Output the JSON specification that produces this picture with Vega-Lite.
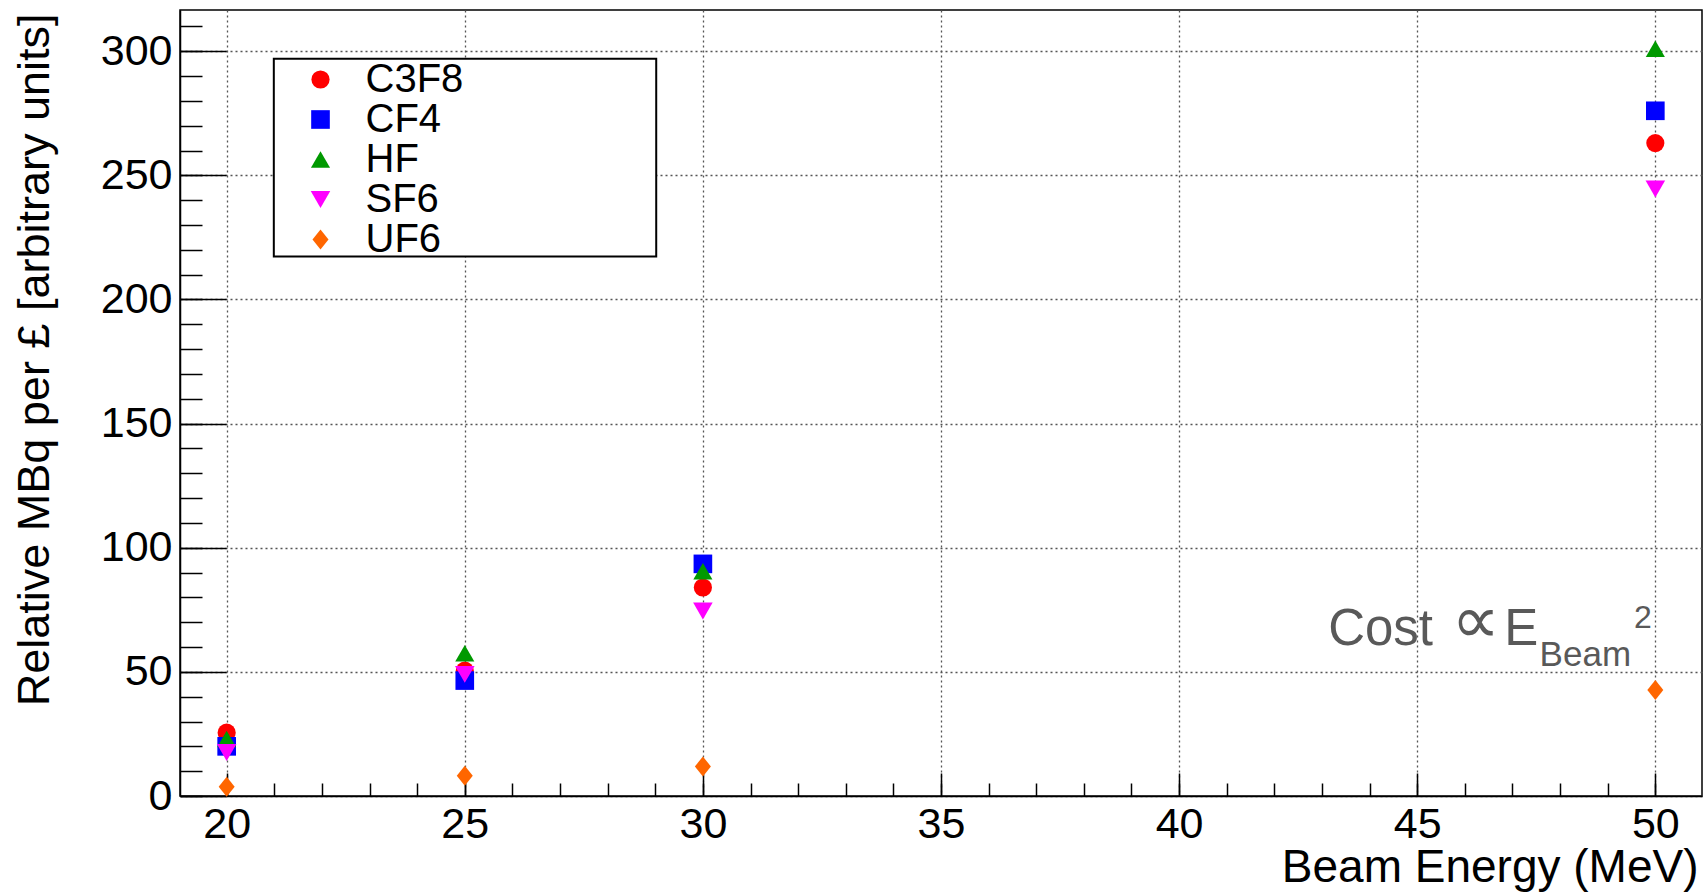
{
  "$schema": "https://vega.github.io/schema/vega-lite/v6.json",
  "width": 1522,
  "height": 786,
  "autosize": "none",
  "padding": {"left": 180, "top": 10, "right": 4, "bottom": 98},
  "background": "white",
  "config": {
    "view": {"stroke": "black", "strokeWidth": 1.5},
    "font": "Liberation Sans"
  },
  "resolve": {"axis": {"x": "independent", "y": "independent"}},
  "layer": [
    {
      "data": {"values": [{}]},
      "mark": {"type": "rect", "fill": "white", "stroke": "black", "strokeWidth": 2},
      "encoding": {
        "x": {"datum": 20.99, "type": "quantitative",
          "scale": {"domain": [19.02, 50.98], "nice": false, "zero": false},
          "axis": {"orient": "bottom", "values": [20,21,22,23,24,25,26,27,28,29,30,31,32,33,34,35,36,37,38,39,40,41,42,43,44,45,46,47,48,49,50],
            "tickSize": -13, "tickWidth": 1.5, "tickColor": "black", "labels": false, "domain": false, "grid": false, "title": null}},
        "x2": {"datum": 29.02},
        "y": {"datum": 297, "type": "quantitative",
          "scale": {"domain": [0, 316.6], "nice": false, "zero": false},
          "axis": {"orient": "left", "values": [0,10,20,30,40,50,60,70,80,90,100,110,120,130,140,150,160,170,180,190,200,210,220,230,240,250,260,270,280,290,300,310],
            "tickSize": -22, "tickWidth": 1.5, "tickColor": "black", "labels": false, "domain": false, "grid": false, "title": null}},
        "y2": {"datum": 217.3}
      }
    },
    {
      "data": {"values": [
        {"gas": "C3F8", "energy": 20, "value": 25.5},
        {"gas": "C3F8", "energy": 25, "value": 50.5},
        {"gas": "C3F8", "energy": 30, "value": 84},
        {"gas": "C3F8", "energy": 50, "value": 263},
        {"gas": "CF4", "energy": 20, "value": 20},
        {"gas": "CF4", "energy": 25, "value": 46.5},
        {"gas": "CF4", "energy": 30, "value": 93.5},
        {"gas": "CF4", "energy": 50, "value": 276},
        {"gas": "HF", "energy": 20, "value": 23},
        {"gas": "HF", "energy": 25, "value": 57.5},
        {"gas": "HF", "energy": 30, "value": 90.5},
        {"gas": "HF", "energy": 50, "value": 301},
        {"gas": "SF6", "energy": 20, "value": 17.5},
        {"gas": "SF6", "energy": 25, "value": 49},
        {"gas": "SF6", "energy": 30, "value": 74.5},
        {"gas": "SF6", "energy": 50, "value": 244.5},
        {"gas": "UF6", "energy": 20, "value": 3.7},
        {"gas": "UF6", "energy": 25, "value": 8.2},
        {"gas": "UF6", "energy": 30, "value": 11.9},
        {"gas": "UF6", "energy": 50, "value": 42.7}
      ]},
      "mark": {"type": "point", "filled": true, "opacity": 1, "strokeWidth": 0},
      "encoding": {
        "x": {"field": "energy", "type": "quantitative",
          "scale": {"domain": [19.02, 50.98], "nice": false, "zero": false},
          "axis": {"orient": "bottom", "values": [20,25,30,35,40,45,50],
            "tickSize": -23, "tickWidth": 1.5, "tickColor": "black",
            "domain": true, "domainColor": "black", "domainWidth": 1.5,
            "grid": true, "gridDash": [2, 3], "gridColor": "#555555", "gridWidth": 1.3, "gridOpacity": 1,
            "labelFont": "Liberation Sans", "labelFontSize": 43, "labelColor": "black", "labelPadding": 30, "labelFlush": false,
            "title": "Beam Energy (MeV)", "titleFont": "Liberation Sans", "titleFontSize": 46, "titleFontWeight": "normal", "titleColor": "black",
            "titleAnchor": "end", "titleAlign": "right", "titleBaseline": "alphabetic", "titleX": 1518, "titleY": 85}},
        "y": {"field": "value", "type": "quantitative",
          "scale": {"domain": [0, 316.6], "nice": false, "zero": false},
          "axis": {"orient": "left", "values": [0,50,100,150,200,250,300],
            "tickSize": -46, "tickWidth": 1.5, "tickColor": "black",
            "domain": true, "domainColor": "black", "domainWidth": 1.5,
            "grid": true, "gridDash": [2, 3], "gridColor": "#555555", "gridWidth": 1.3, "gridOpacity": 1,
            "labelFont": "Liberation Sans", "labelFontSize": 43, "labelColor": "black", "labelPadding": 54, "labelFlush": false,
            "title": "Relative MBq per £ [arbitrary units]", "titleFont": "Liberation Sans", "titleFontSize": 45, "titleFontWeight": "normal", "titleColor": "black",
            "titleAngle": -90, "titleAnchor": "end", "titleAlign": "right", "titleBaseline": "alphabetic", "titleX": -132, "titleY": 3}},
        "color": {"field": "gas", "type": "nominal",
          "scale": {"domain": ["C3F8", "CF4", "HF", "SF6", "UF6"], "range": ["#ff0000", "#0000ff", "#009900", "#ff00ff", "#ff6600"]},
          "legend": {"orient": "none", "legendX": 120.5, "legendY": 49.5, "title": null,
            "labelFont": "Liberation Sans", "labelFontSize": 40, "labelColor": "black",
            "padding": 0, "rowPadding": -0.5, "labelOffset": 25, "symbolOffset": 0,
            "symbolStrokeWidth": 0, "symbolOpacity": 1}},
        "shape": {"field": "gas", "type": "nominal",
          "scale": {"domain": ["C3F8", "CF4", "HF", "SF6", "UF6"], "range": ["circle", "square", "triangle-up", "triangle-down", "M0,-1L0.8,0L0,1L-0.8,0Z"]}},
        "size": {"field": "gas", "type": "nominal",
          "scale": {"domain": ["C3F8", "CF4", "HF", "SF6", "UF6"], "range": [330, 400, 440, 440, 260]}}
      }
    },
    {
      "data": {"values": [{}]},
      "mark": {"type": "text", "text": "Cost", "font": "Liberation Sans", "fontSize": 51, "color": "#595959", "align": "left", "baseline": "alphabetic"},
      "encoding": {
        "x": {"datum": 43.13, "type": "quantitative", "scale": {"domain": [19.02, 50.98], "nice": false, "zero": false}, "axis": null},
        "y": {"datum": 61, "type": "quantitative", "scale": {"domain": [0, 316.6], "nice": false, "zero": false}, "axis": null}
      }
    },
    {
      "data": {"values": [{}]},
      "mark": {"type": "text", "text": "∝", "font": "DejaVu Sans", "fontSize": 68, "color": "#595959", "align": "left", "baseline": "alphabetic"},
      "encoding": {
        "x": {"datum": 45.72, "type": "quantitative", "scale": {"domain": [19.02, 50.98], "nice": false, "zero": false}, "axis": null},
        "y": {"datum": 61.5, "type": "quantitative", "scale": {"domain": [0, 316.6], "nice": false, "zero": false}, "axis": null}
      }
    },
    {
      "data": {"values": [{}]},
      "mark": {"type": "text", "text": "E", "font": "Liberation Sans", "fontSize": 51, "color": "#595959", "align": "left", "baseline": "alphabetic"},
      "encoding": {
        "x": {"datum": 46.83, "type": "quantitative", "scale": {"domain": [19.02, 50.98], "nice": false, "zero": false}, "axis": null},
        "y": {"datum": 61, "type": "quantitative", "scale": {"domain": [0, 316.6], "nice": false, "zero": false}, "axis": null}
      }
    },
    {
      "data": {"values": [{}]},
      "mark": {"type": "text", "text": "Beam", "font": "Liberation Sans", "fontSize": 35, "color": "#595959", "align": "left", "baseline": "alphabetic"},
      "encoding": {
        "x": {"datum": 47.57, "type": "quantitative", "scale": {"domain": [19.02, 50.98], "nice": false, "zero": false}, "axis": null},
        "y": {"datum": 52.26, "type": "quantitative", "scale": {"domain": [0, 316.6], "nice": false, "zero": false}, "axis": null}
      }
    },
    {
      "data": {"values": [{}]},
      "mark": {"type": "text", "text": "2", "font": "Liberation Sans", "fontSize": 32, "color": "#595959", "align": "left", "baseline": "alphabetic"},
      "encoding": {
        "x": {"datum": 49.55, "type": "quantitative", "scale": {"domain": [19.02, 50.98], "nice": false, "zero": false}, "axis": null},
        "y": {"datum": 67.5, "type": "quantitative", "scale": {"domain": [0, 316.6], "nice": false, "zero": false}, "axis": null}
      }
    }
  ]
}
